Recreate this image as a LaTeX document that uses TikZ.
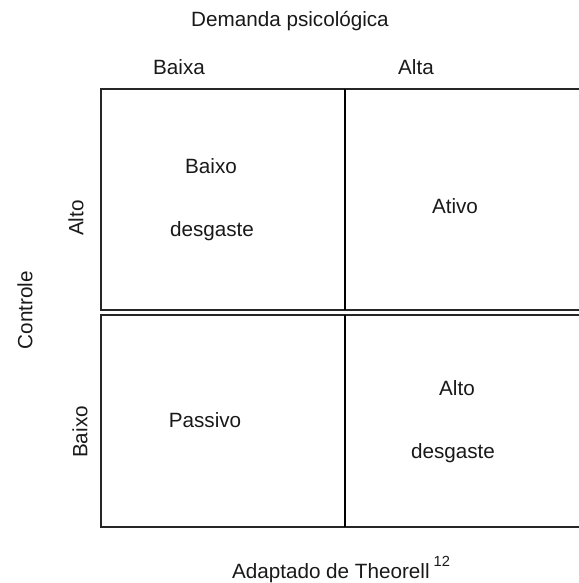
\documentclass[tikz,border=0pt]{standalone}
\usepackage{fontspec}
\setmainfont{Liberation Sans}
\tikzset{every picture/.style={line width=0.75pt}}
\tikzset{
  cell/.style={draw=black!85, line width=1.1pt},
  split/.style={draw=black, line width=1.6pt},
  lbl/.style={inner sep=0.75pt, font=\fontsize{15.5}{18}\selectfont, text=black!90}
}

\begin{document}
\begin{tikzpicture}[x=0.75pt,y=0.75pt,yscale=-1,xscale=1]
\useasboundingbox (0,0) rectangle (579,583);
\clip (0,0) rectangle (579,583);

%Shape: Rectangle [id:top]
\draw [cell] (101,89) rectangle (590,310);
%Shape: Rectangle [id:bottom]
\draw [cell] (101,315) rectangle (590,527);
%Straight Lines [id:split]
\draw [split] (345,89) -- (345,310);
\draw [split] (345,315) -- (345,527);

% Text Node
\draw (290,21) node [lbl] (demanda) {Demanda psicológica};
% Text Node
\draw (179,67) node [lbl] (baixa) {Baixa};
% Text Node
\draw (416,67) node [lbl] (alta) {Alta};
% Text Node
\draw (25,310) node [lbl, rotate=90] (controle) {Controle};
% Text Node
\draw (76,218) node [lbl, rotate=90] (alto) {Alto};
% Text Node
\draw (80,432) node [lbl, rotate=90] (baixo) {Baixo};
% Text Node
\draw (211,166) node [lbl] (bd1) {Baixo};
\draw (212,231) node [lbl] (bd2) {desgaste};
% Text Node
\draw (455,206) node [lbl] (ativo) {Ativo};
% Text Node
\draw (205,420) node [lbl] (passivo) {Passivo};
% Text Node
\draw (457,388) node [lbl] (ad1) {Alto};
\draw (453,453) node [lbl] (ad2) {desgaste};
% Text Node
\draw (341,578) node [lbl, anchor=base] (fonte) {Adaptado de Theorell\hspace{3pt}\raisebox{9pt}{\fontsize{11}{11}\selectfont 12}};

\end{tikzpicture}
\end{document}
